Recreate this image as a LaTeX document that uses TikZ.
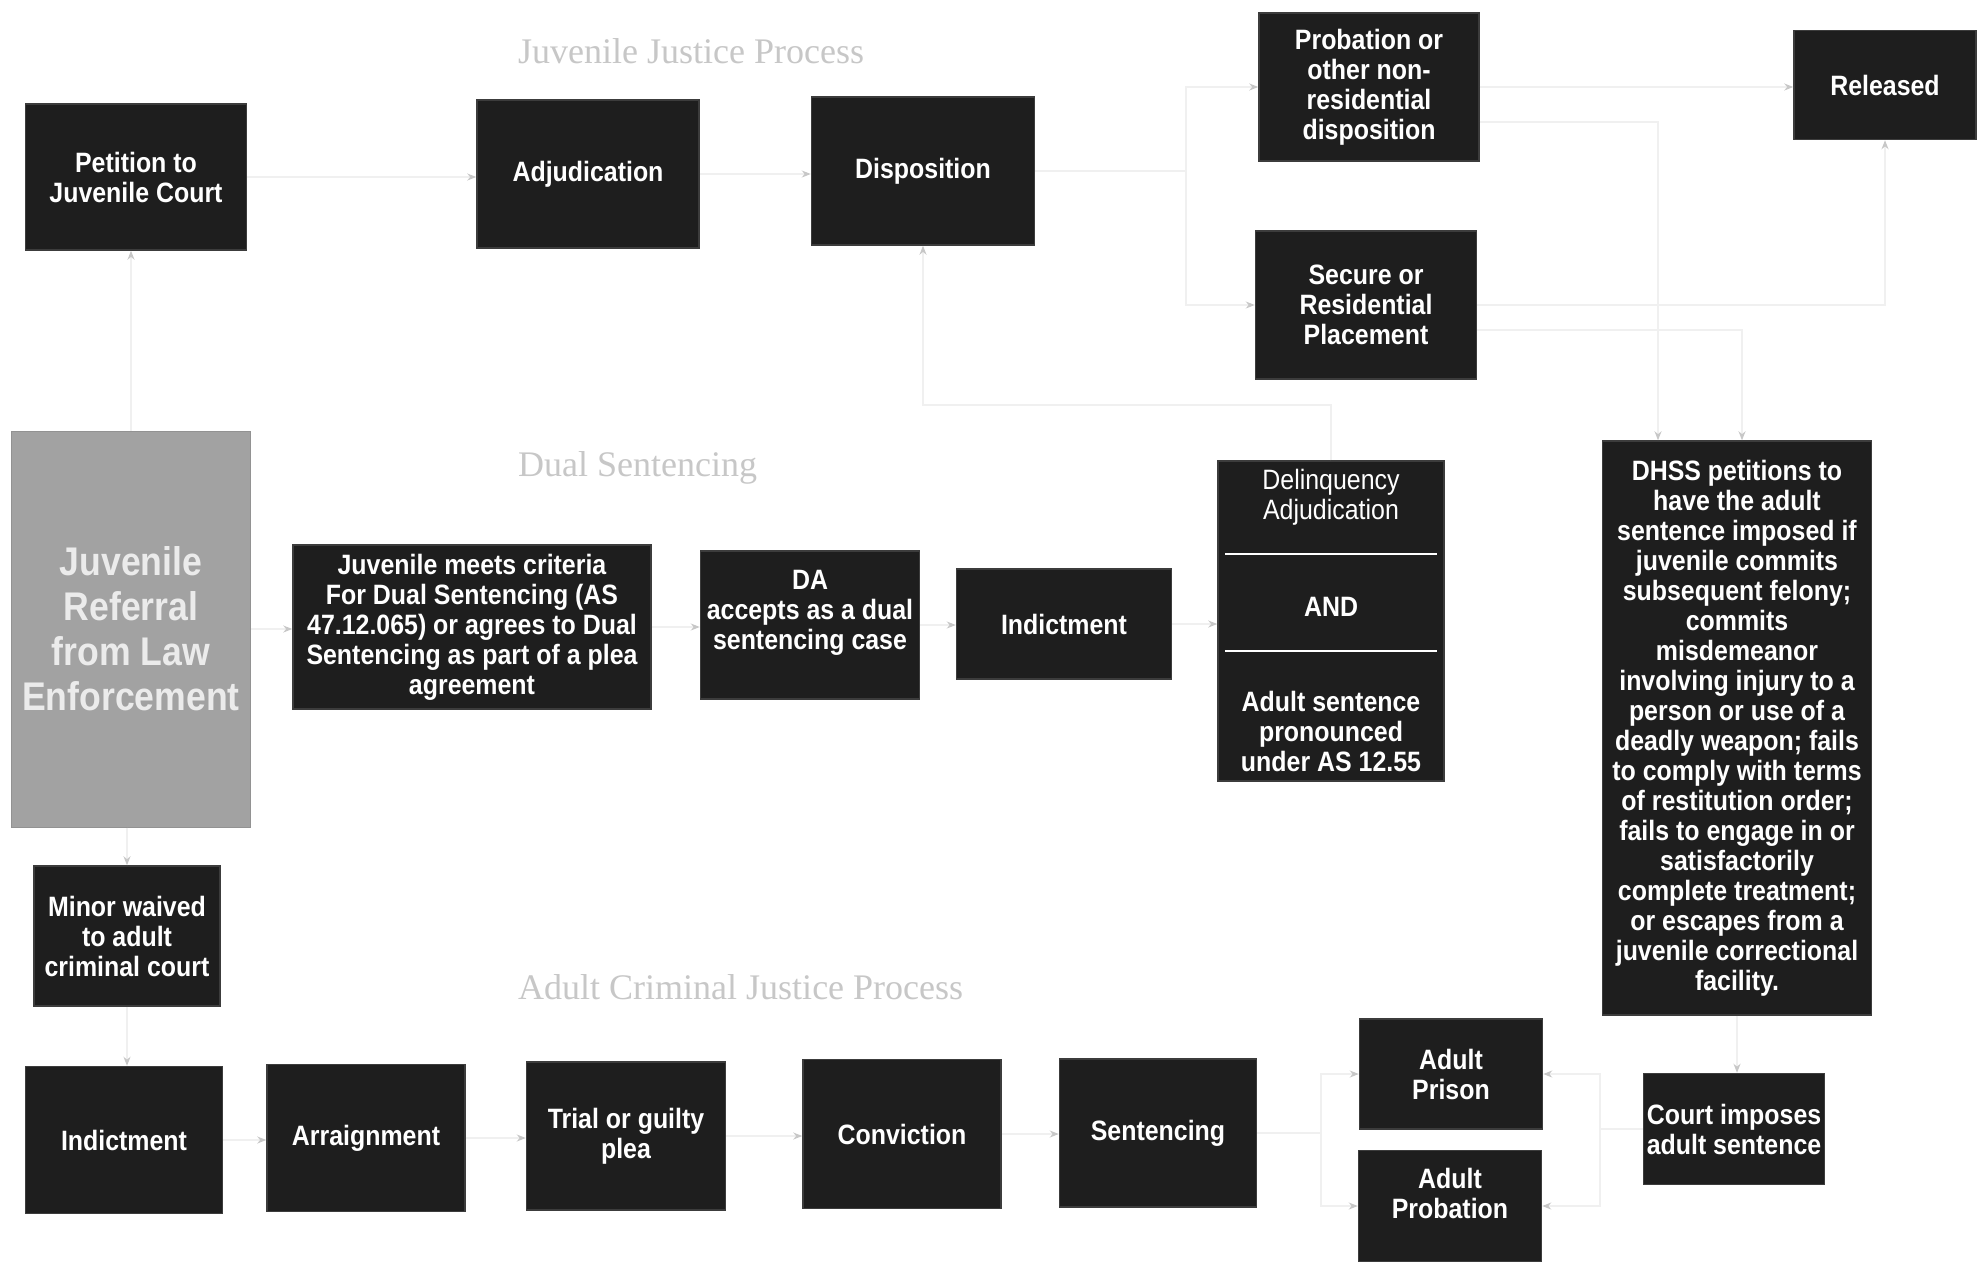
\documentclass[tikz,border=0pt]{standalone}
\usepackage{fontspec}
\setmainfont{Liberation Sans}
\newfontfamily\boxfont{Liberation Sans}[FakeStretch=0.89]
\newfontfamily\titlefont{Liberation Serif}
\usetikzlibrary{arrows.meta}
\definecolor{boxfill}{HTML}{1E1E1E}
\definecolor{boxedge}{HTML}{3C3C3C}
\definecolor{refgray}{HTML}{A2A2A2}
\begin{document}
\begin{tikzpicture}[x=1pt,y=-1pt,
  box/.style={draw=boxedge, line width=1.5pt, fill=boxfill, text=white, align=center, inner sep=0pt,
    font=\boxfont\bfseries\fontsize{28}{30}\selectfont},
  plain/.style={text=white, align=center, inner sep=0pt, font=\boxfont\bfseries\fontsize{28}{30}\selectfont},
  regtext/.style={text=white, align=center, inner sep=0pt, font=\boxfont\fontsize{28}{30}\selectfont},
  refbox/.style={fill=refgray, draw=refgray!90!black, line width=1pt, text=white!92!black, align=center, inner sep=0pt,
    font=\boxfont\bfseries\fontsize{40}{45}\selectfont},
  conn/.style={draw=black!6, line width=1.2pt, -{Stealth[length=9pt,width=7pt,color=black!22]}},
  ttl/.style={anchor=west, text=black!22, font=\titlefont\fontsize{36}{42}\selectfont, inner sep=0pt},
  divider/.style={draw=white, line width=2.5pt}]
\fill[white] (0,0) rectangle (1982,1262);
\useasboundingbox (0,0) rectangle (1982,1262);

% titles
\node[ttl] (t1) at (518,51) {Juvenile Justice Process};
\node[ttl] (t2) at (518,468) {Dual Sentencing};
\node[ttl] (t3) at (518,987) {Adult Criminal Justice Process};

% juvenile row
\node[box, minimum width=221, minimum height=146] (pet) at (136,177) {Petition to\\Juvenile Court};
\node[box, minimum width=222, minimum height=148] (adj) at (588,174) {Adjudication};
\node[box, minimum width=223, minimum height=148] (disp) at (923,171) {Disposition};
\node[box, minimum width=220, minimum height=148] (prob) at (1369,87) {Probation or\\other non-\\residential\\disposition};
\node[box, minimum width=221, minimum height=148] (sec) at (1366,305) {Secure or\\Residential\\Placement};
\node[box, minimum width=182, minimum height=109] (rel) at (1885,85) {Released};

% referral
\node[refbox, minimum width=239, minimum height=396] (ref) at (131,629) {Juvenile\\Referral\\from Law\\Enforcement};

% dual sentencing row
\node[box, minimum width=358, minimum height=164] (jm) at (472,627) {Juvenile meets criteria\\For Dual Sentencing (AS\\47.12.065) or agrees to Dual\\Sentencing as part of a plea\\agreement};
\node[box, minimum width=219, minimum height=148] (da) at (810,625) {};
\node[plain] (da-t) at (810,613) {DA\\accepts as a dual\\sentencing case};
\node[box, minimum width=215, minimum height=110] (ind2) at (1064,624) {Indictment};
\node[box, minimum width=226, minimum height=320] (del) at (1331,621) {};
\node[regtext] (del-a) at (1331,497) {Delinquency\\Adjudication};
\node[plain] (del-b) at (1331,607) {AND};
\node[plain] (del-c) at (1331,731) {Adult sentence\\pronounced\\under AS 12.55};
\draw[divider] ([xshift=8pt]del.west |- 0,554) -- ([xshift=-8pt]del.east |- 0,554);
\draw[divider] ([xshift=8pt]del.west |- 0,651) -- ([xshift=-8pt]del.east |- 0,651);
\node[box, minimum width=269, minimum height=574] (dhss) at (1737,728) {DHSS petitions to\\have the adult\\sentence imposed if\\juvenile commits\\subsequent felony;\\commits\\misdemeanor\\involving injury to a\\person or use of a\\deadly weapon; fails\\to comply with terms\\of restitution order;\\fails to engage in or\\satisfactorily\\complete treatment;\\or escapes from a\\juvenile correctional\\facility.};

% adult row
\node[box, minimum width=186, minimum height=140] (mw) at (127,936) {Minor waived\\to adult\\criminal court};
\node[box, minimum width=197, minimum height=147] (ind) at (124,1140) {Indictment};
\node[box, minimum width=198, minimum height=147] (arr) at (366,1138) {Arraignment};
\node[box, minimum width=199, minimum height=148] (trial) at (626,1136) {Trial or guilty\\plea};
\node[box, minimum width=198, minimum height=149] (conv) at (902,1134) {Conviction};
\node[box, minimum width=197, minimum height=148] (sent) at (1158,1133) {Sentencing};
\node[box, minimum width=183, minimum height=110] (pris) at (1451,1074) {Adult\\Prison};
\node[box, minimum width=183, minimum height=111] (aprob) at (1450,1206) {};
\node[plain] (aprob-t) at (1450,1193) {Adult\\Probation};
\node[box, minimum width=181, minimum height=111] (court) at (1734,1129) {Court imposes\\adult sentence};

% connectors
\draw[conn] (ref.north) -- (ref.north |- pet.south);
\draw[conn] (pet.east) -- (pet.east -| adj.west);
\draw[conn] (adj.east) -- (adj.east -| disp.west);
\coordinate (s1) at (1186,171);
\draw[conn] (disp.east) -- (s1) |- (prob.west);
\draw[conn] (s1) |- (sec.west);
\draw[conn] (prob.east) -- (prob.east -| rel.west);
\draw[conn] (sec.east) -| (rel.south);
\draw[conn] ([yshift=-35pt]prob.east) -| ([xshift=-79pt]dhss.north);
\draw[conn] ([yshift=-25pt]sec.east) -| ([xshift=5pt]dhss.north);

\draw[conn] (ref.east) -- (ref.east -| jm.west);
\draw[conn] (jm.east) -- (jm.east -| da.west);
\draw[conn] (da.east) -- (da.east -| ind2.west);
\draw[conn] (ind2.east) -- (ind2.east -| del.west);
\coordinate (d2) at (923,405);
\draw[conn] (del.north) |- (d2) -- (disp.south);

\draw[conn] (ref.south -| mw.north) -- (mw.north);
\draw[conn] (mw.south) -- (mw.south |- ind.north);
\draw[conn] (ind.east) -- (ind.east -| arr.west);
\draw[conn] (arr.east) -- (arr.east -| trial.west);
\draw[conn] (trial.east) -- (trial.east -| conv.west);
\draw[conn] (conv.east) -- (conv.east -| sent.west);
\coordinate (s2) at (1321,1133);
\draw[conn] (sent.east) -- (s2) |- (pris.west);
\draw[conn] (s2) |- (aprob.west);
\draw[conn] (dhss.south) -- (dhss.south |- court.north);
\coordinate (s3) at (1600,1129);
\draw[conn] (court.west) -- (s3) |- (pris.east);
\draw[conn] (s3) |- (aprob.east);
\end{tikzpicture}
\end{document}
